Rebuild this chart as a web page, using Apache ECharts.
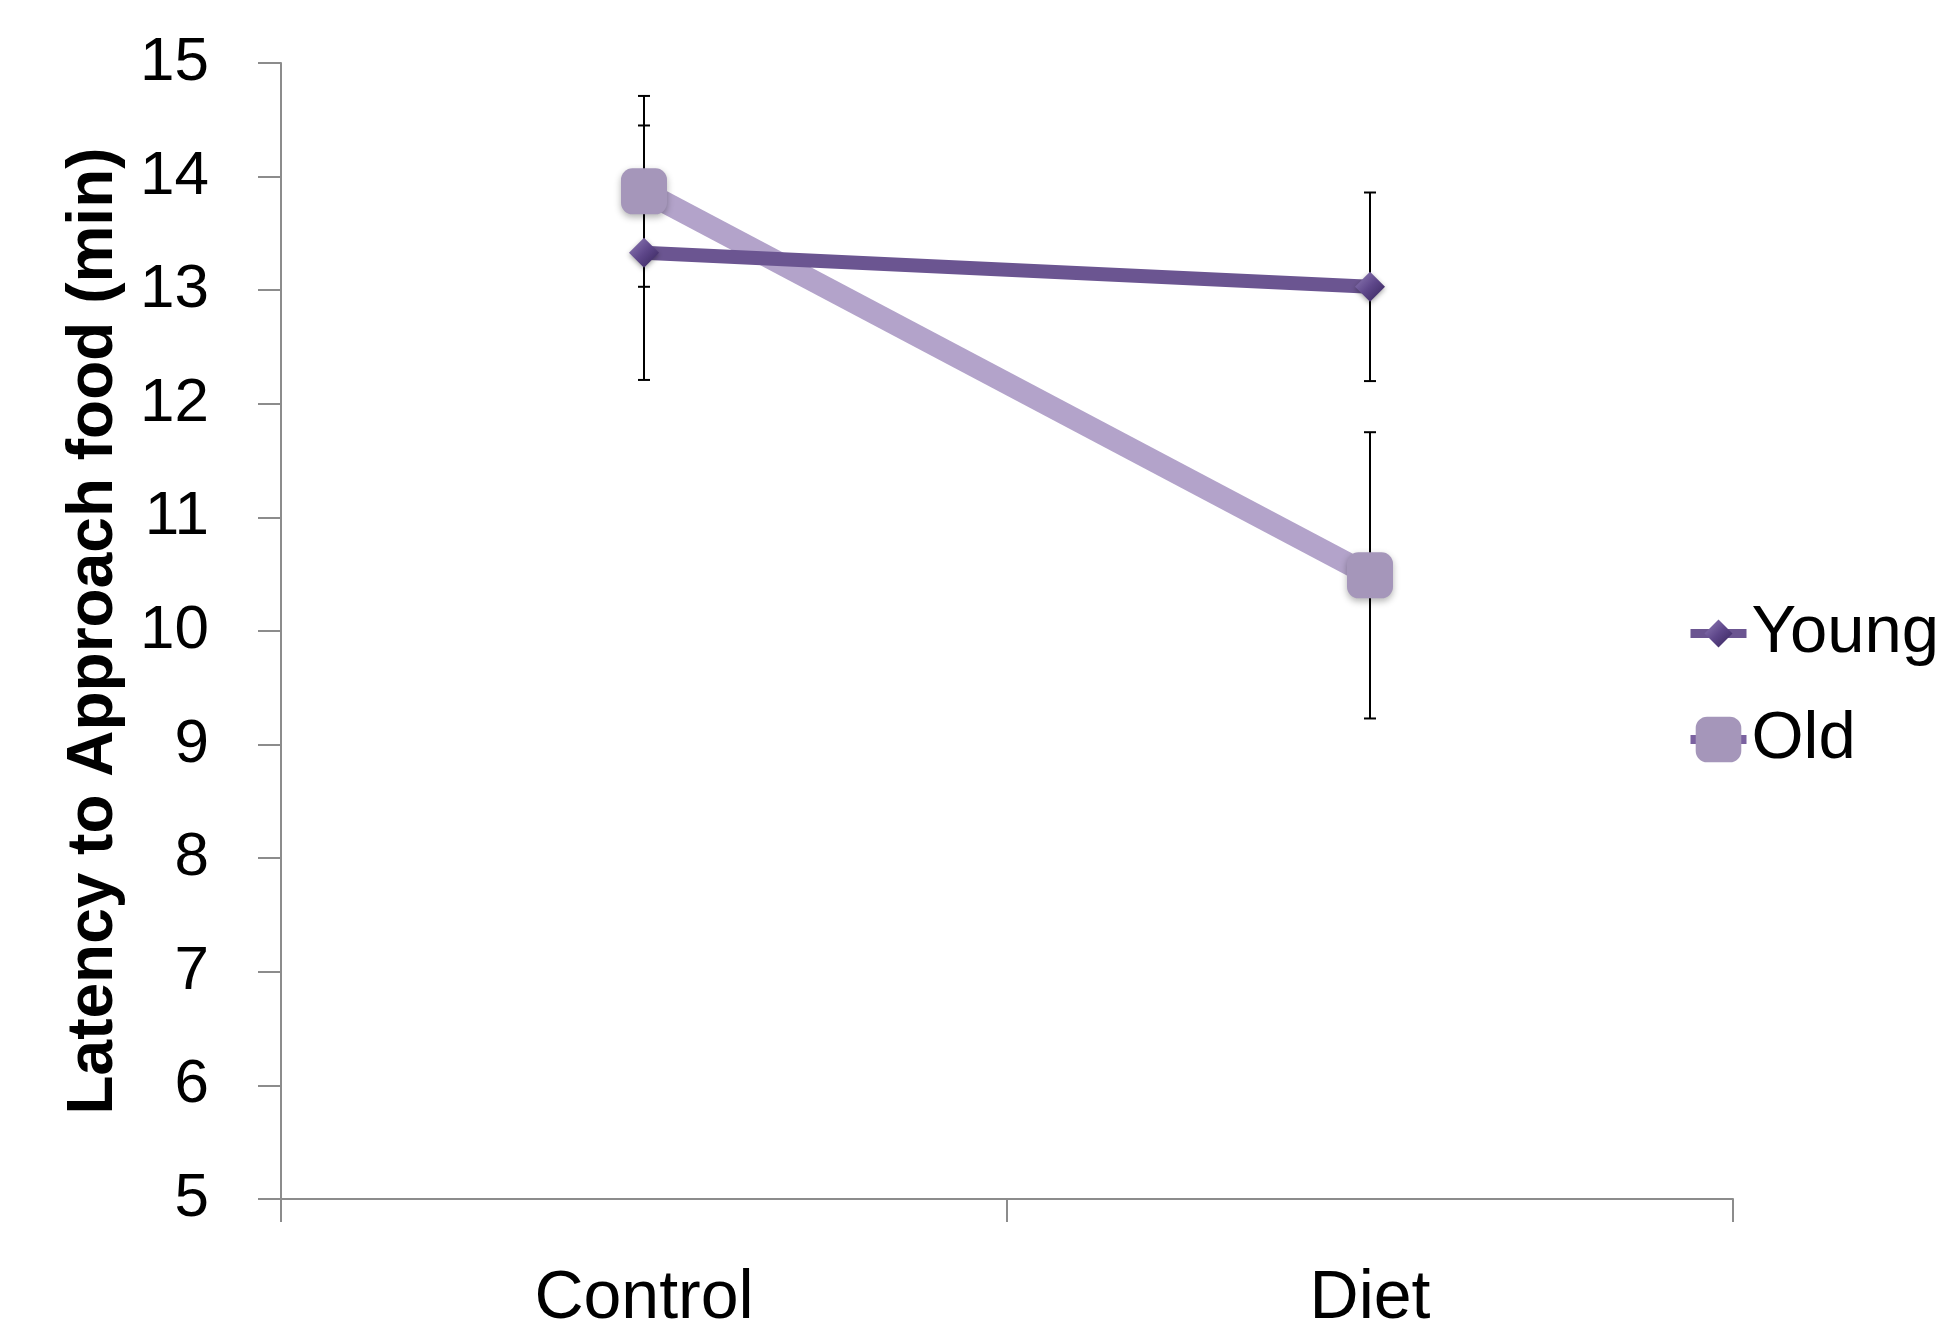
<!DOCTYPE html>
<html>
<head>
<meta charset="utf-8">
<title>Latency to Approach food</title>
<script src="https://cdn.jsdelivr.net/npm/echarts@6/dist/echarts.min.js"></script>
<style>
  html, body { margin: 0; padding: 0; background: #ffffff; }
  #chart { width: 1936px; height: 1329px; }
</style>
</head>
<body>
<div id="chart"></div>
<script>
// Groups on the x axis
const categories = ['Control', 'Diet'];

// Mean latency (min) and error-bar half widths per group
const youngValues = [13.33, 13.03];
const youngErrors = [1.12, 0.83];
const oldValues = [13.87, 10.49];
const oldErrors = [0.84, 1.26];

// Y axis range and step
const yMin = 5;
const yMax = 15;
const yStep = 1;

const FONT = '"Liberation Sans", Arial, sans-serif';
const YOUNG_LINE = '#6B5591';
const OLD_LINE = '#B3A3CA';
const OLD_MARK = '#A596BA';
const AXIS_GREY = '#8C8C8C';

const diamondFill = new echarts.graphic.LinearGradient(0, 0, 1, 1, [
  { offset: 0, color: '#9380B9' },
  { offset: 0.5, color: '#5E478A' },
  { offset: 1, color: '#35235A' }
]);

function errorData(values, errors) {
  return values.map((v, i) => [i, v, errors[i]]);
}

// Vertical error bar with caps, drawn through the axis scales
function renderErrorBar(params, api) {
  const idx = api.value(0);
  const v = api.value(1);
  const e = api.value(2);
  const hi = api.coord([idx, v + e]);
  const lo = api.coord([idx, v - e]);
  const hw = 6;
  const style = { stroke: '#000000', lineWidth: 2 };
  return {
    type: 'group',
    children: [
      { type: 'line', shape: { x1: hi[0], y1: hi[1], x2: lo[0], y2: lo[1] }, style },
      { type: 'line', shape: { x1: hi[0] - hw, y1: hi[1], x2: hi[0] + hw, y2: hi[1] }, style },
      { type: 'line', shape: { x1: lo[0] - hw, y1: lo[1], x2: lo[0] + hw, y2: lo[1] }, style }
    ]
  };
}

const chart = echarts.init(document.getElementById('chart'), null, { renderer: 'canvas' });

chart.setOption({
  backgroundColor: '#ffffff',
  animation: false,
  textStyle: { fontFamily: FONT },
  grid: {
    left: 281, right: 203, top: 63, bottom: 130,
    containLabel: false,
    outerBoundsMode: 'none'
  },
  legend: [
    {
      left: 1686, top: 600, padding: 0,
      orient: 'vertical',
      itemWidth: 56, itemHeight: 35,
      textStyle: { fontFamily: FONT, fontSize: 67, color: '#000000' },
      data: [{
        name: 'Young',
        lineStyle: { width: 9, color: YOUNG_LINE },
        itemStyle: { color: diamondFill }
      }]
    },
    {
      left: 1686, top: 706, padding: 0,
      orient: 'vertical',
      itemWidth: 56, itemHeight: 57,
      textStyle: { fontFamily: FONT, fontSize: 67, color: '#000000' },
      data: [{
        name: 'Old',
        lineStyle: { width: 9, color: '#7B62A0' },
        itemStyle: { color: OLD_MARK }
      }]
    }
  ],
  xAxis: {
    type: 'category',
    data: categories,
    boundaryGap: true,
    axisLine: { show: true, lineStyle: { color: AXIS_GREY, width: 2 } },
    axisTick: { show: true, inside: false, length: 23, lineStyle: { color: AXIS_GREY, width: 2 } },
    axisLabel: { margin: 66, fontSize: 68, color: '#000000', fontFamily: FONT },
    splitLine: { show: false }
  },
  yAxis: {
    type: 'value',
    min: yMin,
    max: yMax,
    interval: yStep,
    name: 'Latency to Approach food (min)',
    nameLocation: 'middle',
    nameGap: 155,
    nameTextStyle: { fontFamily: FONT, fontSize: 64, fontWeight: 'bold', color: '#000000' },
    axisLine: { show: true, lineStyle: { color: AXIS_GREY, width: 2 } },
    axisTick: { show: true, inside: false, length: 23, lineStyle: { color: AXIS_GREY, width: 2 } },
    axisLabel: { margin: 72, fontSize: 62, color: '#000000', fontFamily: FONT },
    splitLine: { show: false }
  },
  series: [
    {
      name: 'Young error',
      type: 'custom',
      renderItem: renderErrorBar,
      data: errorData(youngValues, youngErrors),
      encode: { x: 0, y: 1 },
      z: 1,
      silent: true
    },
    {
      name: 'Old error',
      type: 'custom',
      renderItem: renderErrorBar,
      data: errorData(oldValues, oldErrors),
      encode: { x: 0, y: 1 },
      z: 1,
      silent: true
    },
    {
      name: 'Young',
      type: 'line',
      data: youngValues,
      z: 3,
      symbol: 'diamond',
      symbolSize: 30,
      lineStyle: { color: YOUNG_LINE, width: 14 },
      itemStyle: {
        color: diamondFill,
        shadowColor: 'rgba(0,0,0,0.35)', shadowBlur: 5, shadowOffsetY: 2
      }
    },
    {
      name: 'Old',
      type: 'line',
      data: oldValues,
      z: 2,
      symbol: 'roundRect',
      symbolSize: 46,
      lineStyle: { color: OLD_LINE, width: 22 },
      itemStyle: {
        color: OLD_MARK,
        shadowColor: 'rgba(0,0,0,0.3)', shadowBlur: 7, shadowOffsetY: 3
      }
    }
  ]
});
</script>
</body>
</html>
